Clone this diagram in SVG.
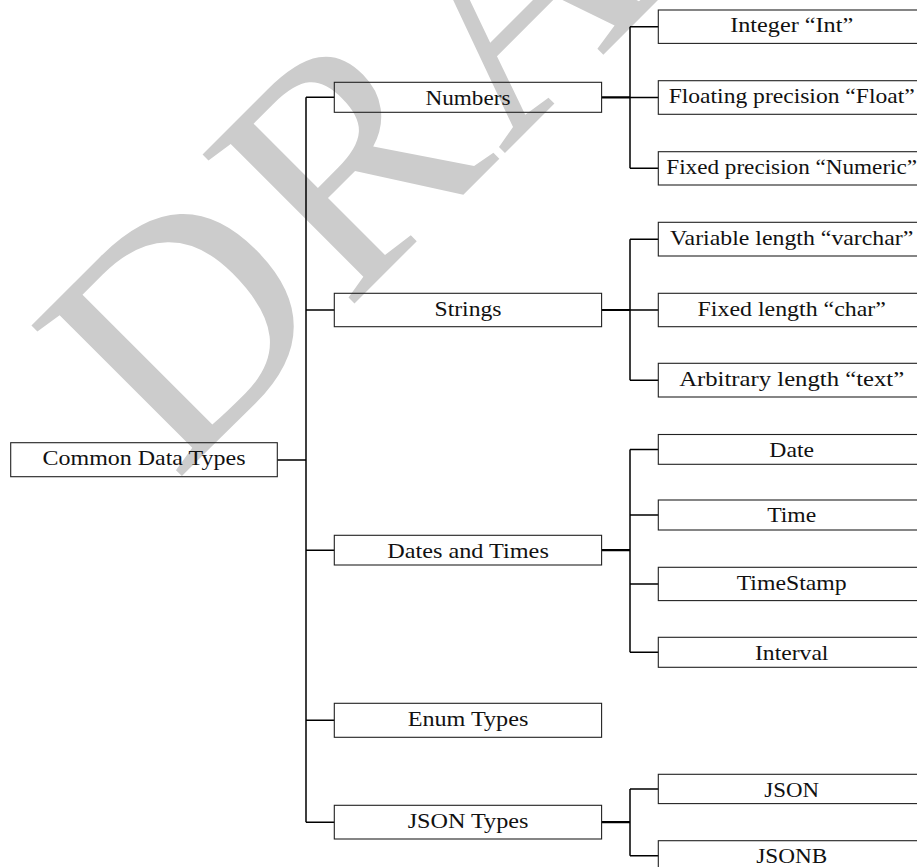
<svg xmlns="http://www.w3.org/2000/svg" width="917" height="867" viewBox="0 0 917 867">
<style>
.wm{font-family:"Liberation Serif","Times New Roman",serif;font-size:325px;fill:#cccccc;text-anchor:middle}
.box{fill:none;stroke:#222;stroke-width:1.1}
.lbl{font-family:"Liberation Serif","Times New Roman",serif;font-size:22px;fill:#111;text-anchor:middle}
.edge{fill:none;stroke:#000;stroke-width:1.5}
.stem{fill:none;stroke:#000;stroke-width:2.2}
</style>
<rect width="917" height="867" fill="#ffffff"/>
<g id="watermark" transform="translate(329,329) rotate(-45)">
<text class="wm" x="-100" y="0">D</text>
<text class="wm" x="133" y="0">R</text>
<text class="wm" x="363" y="0">A</text>
<text class="wm" x="580" y="0">F</text>
<text class="wm" x="793" y="0">T</text>
</g>
<g id="connectors">
<path class="edge" d="M277.3,460 H306 M306,97.3 V822.2 M306,97.3 H334.3 M306,310 H334.3 M306,550.2 H334.3 M306,720.3 H334.3 M306,822.2 H334.3"/>
<path class="stem" d="M601.6,97.3 H630 M601.6,310 H630 M601.6,550.2 H630 M601.6,822.2 H630"/>
<path class="edge" d="M630,26.7 V168.3 M630,26.7 H658.3 M630,97.5 H658.3 M630,168.3 H658.3"/>
<path class="edge" d="M630,239.2 V380.2 M630,239.2 H658.3 M630,310 H658.3 M630,380.2 H658.3"/>
<path class="edge" d="M630,449.4 V652.3 M630,449.4 H658.3 M630,515 H658.3 M630,584 H658.3 M630,652.3 H658.3"/>
<path class="edge" d="M630,789 V855.7 M630,789 H658.3 M630,855.7 H658.3"/>
</g>
<g id="n-root"><rect class="box" x="10.7" y="442.7" width="266.6" height="34"/><text class="lbl" x="144" y="465.1" textLength="203" lengthAdjust="spacingAndGlyphs">Common Data Types</text></g>
<g id="n-numbers"><rect class="box" x="334.3" y="82.3" width="267.3" height="30"/><text class="lbl" x="468" y="104.7" textLength="85" lengthAdjust="spacingAndGlyphs">Numbers</text></g>
<g id="n-strings"><rect class="box" x="334.3" y="293.3" width="267.3" height="33.4"/><text class="lbl" x="468" y="315.7" textLength="67" lengthAdjust="spacingAndGlyphs">Strings</text></g>
<g id="n-dates"><rect class="box" x="334.3" y="535.3" width="267.3" height="29.7"/><text class="lbl" x="468" y="557.7" textLength="161.7" lengthAdjust="spacingAndGlyphs">Dates and Times</text></g>
<g id="n-enum"><rect class="box" x="334.3" y="703.3" width="267.3" height="34"/><text class="lbl" x="468" y="725.7" textLength="120.7" lengthAdjust="spacingAndGlyphs">Enum Types</text></g>
<g id="n-json-types"><rect class="box" x="334.3" y="805.3" width="267.3" height="33.7"/><text class="lbl" x="468" y="827.7" textLength="120.7" lengthAdjust="spacingAndGlyphs">JSON Types</text></g>
<g id="n-int"><rect class="box" x="658.3" y="10" width="267" height="33.4"/><text class="lbl" x="791.7" y="32.4" textLength="123" lengthAdjust="spacingAndGlyphs">Integer “Int”</text></g>
<g id="n-float"><rect class="box" x="658.3" y="80.7" width="267" height="33.6"/><text class="lbl" x="791.7" y="103.1" textLength="246" lengthAdjust="spacingAndGlyphs">Floating precision “Float”</text></g>
<g id="n-numeric"><rect class="box" x="658.3" y="151.7" width="267" height="33.3"/><text class="lbl" x="791.7" y="174.1" textLength="250.8" lengthAdjust="spacingAndGlyphs">Fixed precision “Numeric”</text></g>
<g id="n-varchar"><rect class="box" x="658.3" y="222.3" width="267" height="33.7"/><text class="lbl" x="791.7" y="244.7" textLength="243.3" lengthAdjust="spacingAndGlyphs">Variable length “varchar”</text></g>
<g id="n-char"><rect class="box" x="658.3" y="293.3" width="267" height="33.4"/><text class="lbl" x="791.7" y="315.7" textLength="188.3" lengthAdjust="spacingAndGlyphs">Fixed length “char”</text></g>
<g id="n-text"><rect class="box" x="658.3" y="363.3" width="267" height="33.7"/><text class="lbl" x="791.7" y="385.7" textLength="225" lengthAdjust="spacingAndGlyphs">Arbitrary length “text”</text></g>
<g id="n-date"><rect class="box" x="658.3" y="434.5" width="267" height="29.8"/><text class="lbl" x="791.7" y="456.8" textLength="44.7" lengthAdjust="spacingAndGlyphs">Date</text></g>
<g id="n-time"><rect class="box" x="658.3" y="500" width="267" height="30"/><text class="lbl" x="791.7" y="522.4" textLength="49" lengthAdjust="spacingAndGlyphs">Time</text></g>
<g id="n-timestamp"><rect class="box" x="658.3" y="567.3" width="267" height="33.3"/><text class="lbl" x="791.7" y="589.7" textLength="110" lengthAdjust="spacingAndGlyphs">TimeStamp</text></g>
<g id="n-interval"><rect class="box" x="658.3" y="637.3" width="267" height="30"/><text class="lbl" x="791.7" y="659.7" textLength="73.5" lengthAdjust="spacingAndGlyphs">Interval</text></g>
<g id="n-json"><rect class="box" x="658.3" y="774.3" width="267" height="29.3"/><text class="lbl" x="791.7" y="796.5" textLength="54.7" lengthAdjust="spacingAndGlyphs">JSON</text></g>
<g id="n-jsonb"><rect class="box" x="658.3" y="840.7" width="267" height="30"/><text class="lbl" x="791.7" y="863" textLength="71" lengthAdjust="spacingAndGlyphs">JSONB</text></g>
</svg>
